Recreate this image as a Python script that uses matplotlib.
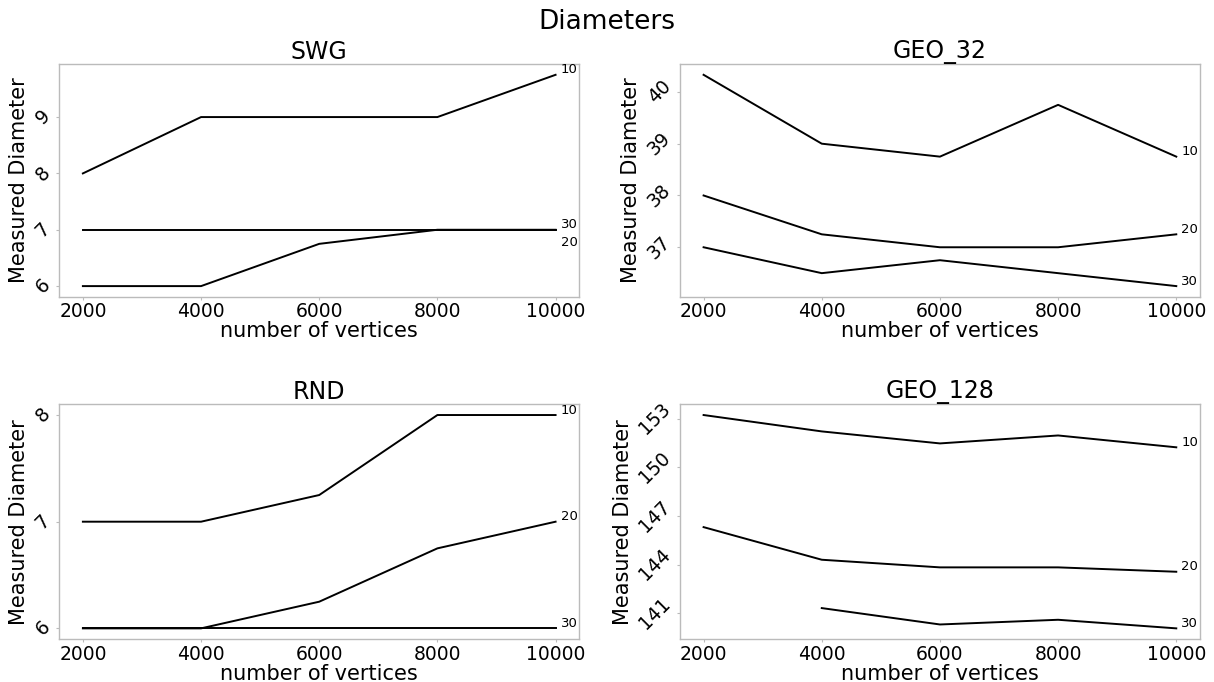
import matplotlib
matplotlib.use("Agg")
import matplotlib.pyplot as plt
import numpy as np

# Number of vertices in each generated graph
vertices = [2000, 4000, 6000, 8000, 10000]
series_names = ["10", "20", "30"]

# Measured diameters per graph family (one list per parameter value)
swg_10 = [8, 9, 9, 9, 9.75]
swg_20 = [6, 6, 6.75, 7, 7]
swg_30 = [7, 7, 7, 7, 7]

geo32_10 = [40.33, 39, 38.75, 39.75, 38.75]
geo32_20 = [38, 37.25, 37, 37, 37.25]
geo32_30 = [37, 36.5, 36.75, 36.5, 36.25]

rnd_10 = [7, 7, 7.25, 8, 8]
rnd_20 = [6, 6, 6.25, 6.75, 7]
rnd_30 = [6, 6, 6, 6, 6]

geo128_10 = [153.23, 152.22, 151.48, 151.97, 151.24]
geo128_20 = [146.32, 144.31, 143.84, 143.84, 143.57]
geo128_30 = [np.nan, 141.33, 140.32, 140.61, 140.08]

swg_yticks = [6, 7, 8, 9]
geo32_yticks = [37, 38, 39, 40]
rnd_yticks = [6, 7, 8]
geo128_yticks = [141, 144, 147, 150, 153]

panels = [
    ("SWG", [swg_10, swg_20, swg_30], swg_yticks),
    ("GEO_32", [geo32_10, geo32_20, geo32_30], geo32_yticks),
    ("RND", [rnd_10, rnd_20, rnd_30], rnd_yticks),
    ("GEO_128", [geo128_10, geo128_20, geo128_30], geo128_yticks),
]

# Axes rectangles in figure fractions
rects = [
    [0.0488, 0.5650, 0.4283, 0.3408],
    [0.5601, 0.5650, 0.4283, 0.3408],
    [0.0488, 0.0630, 0.4283, 0.3441],
    [0.5601, 0.0630, 0.4283, 0.3441],
]

# Vertical nudges (points) for the end-of-line labels, to keep them apart
label_nudge = {
    "SWG": {"10": 3.5, "20": -9, "30": 3.5},
}

fig = plt.figure(figsize=(12.14, 6.82), dpi=100)
fig.text(0.5, 1 - 22 / 682, "Diameters", fontsize=19, ha="center", va="center")

for (name, curves, yticks), rect in zip(panels, rects):
    ax = fig.add_axes(rect)
    for label, values in zip(series_names, curves):
        ax.plot(vertices, values, color="black", linewidth=1.4)
        last = values[-1]
        dy = label_nudge.get(name, {}).get(label, 3.5)
        ax.annotate(label, xy=(vertices[-1], last), xytext=(3.6, dy),
                    textcoords="offset points", fontsize=9.5,
                    va="center", ha="left", annotation_clip=False)
    ax.set_title(name, fontsize=17, pad=3)
    ax.set_xlabel("number of vertices", fontsize=15, labelpad=0)
    ax.set_ylabel("Measured Diameter", fontsize=15, labelpad=2)
    ax.set_xticks(vertices)
    ax.set_yticks(yticks)
    ax.tick_params(axis="both", length=2, width=0.8, color="#bbbbbb",
                   labelsize=13.5, pad=2)
    for lab in ax.get_yticklabels():
        lab.set_rotation(45)
        lab.set_va("center")
    for spine in ax.spines.values():
        spine.set_color("#bbbbbb")
        spine.set_linewidth(1.0)

fig.savefig("out.png", dpi=100)
